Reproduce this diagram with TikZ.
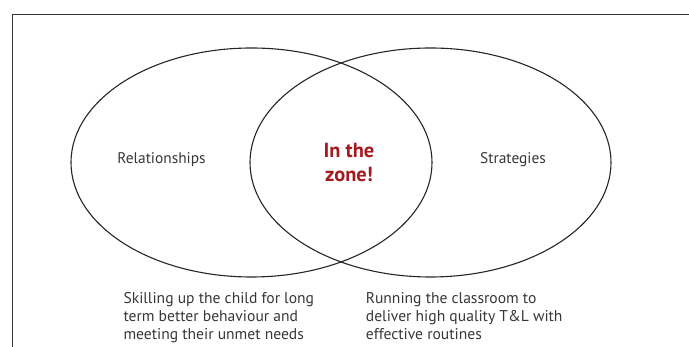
\documentclass[tikz,border=0pt]{standalone}
\usepackage{fontspec}
\setmainfont{PT Sans}
\usepackage{tikz}
\usetikzlibrary{shapes.geometric}

\definecolor{zonered}{RGB}{165,25,32}
\definecolor{labelgray}{RGB}{55,55,55}

\begin{document}
\begin{tikzpicture}[x=1pt, y=1pt, line cap=round, line join=round,
    set/.style={ellipse, draw=black!85, line width=1.1pt, inner sep=0pt,
                minimum width=361pt, minimum height=229pt},
    setlabel/.style={text=labelgray, font=\fontsize{15.4}{18}\selectfont, anchor=base},
    note/.style={text=labelgray, align=left, anchor=base west,
                 font=\fontsize{15.6}{18}\selectfont, inner sep=0pt}]
        \useasboundingbox (0,0) rectangle (689,347);

        % frame (top and left edges only)
        \coordinate (TL) at (12,333);
        \coordinate (TR) at (689,333);
        \coordinate (BL) at (12,0);
        \draw[black!80, line width=0.9pt] (TR) -- (TL) -- (BL);

        % the two sets
        \node[set] (relset)   at (251.5,184.5) {};
        \node[set] (stratset) at (430.5,184.5) {};

        % set names
        \node[setlabel] (rel)   at (161.5,183.7) {Relationships};
        \node[setlabel] (strat) at (513,183.7) {Strategies};

        % overlap (base = last line)
        \node[text=zonered, align=center, anchor=base, inner sep=0pt,
              font=\fontsize{20.4}{24}\selectfont\bfseries] (zone) at (349,165.3) {In the\\zone!};

        % notes under the sets (base = last line)
        \node[note] (relnote)   at (123.3,7) {Skilling up the child for long\\term better behaviour and\\meeting their unmet needs};
        \node[note] (stratnote) at (365.7,7) {Running the classroom to\\deliver high quality T\&L with\\effective routines};
    \end{tikzpicture}
\end{document}
